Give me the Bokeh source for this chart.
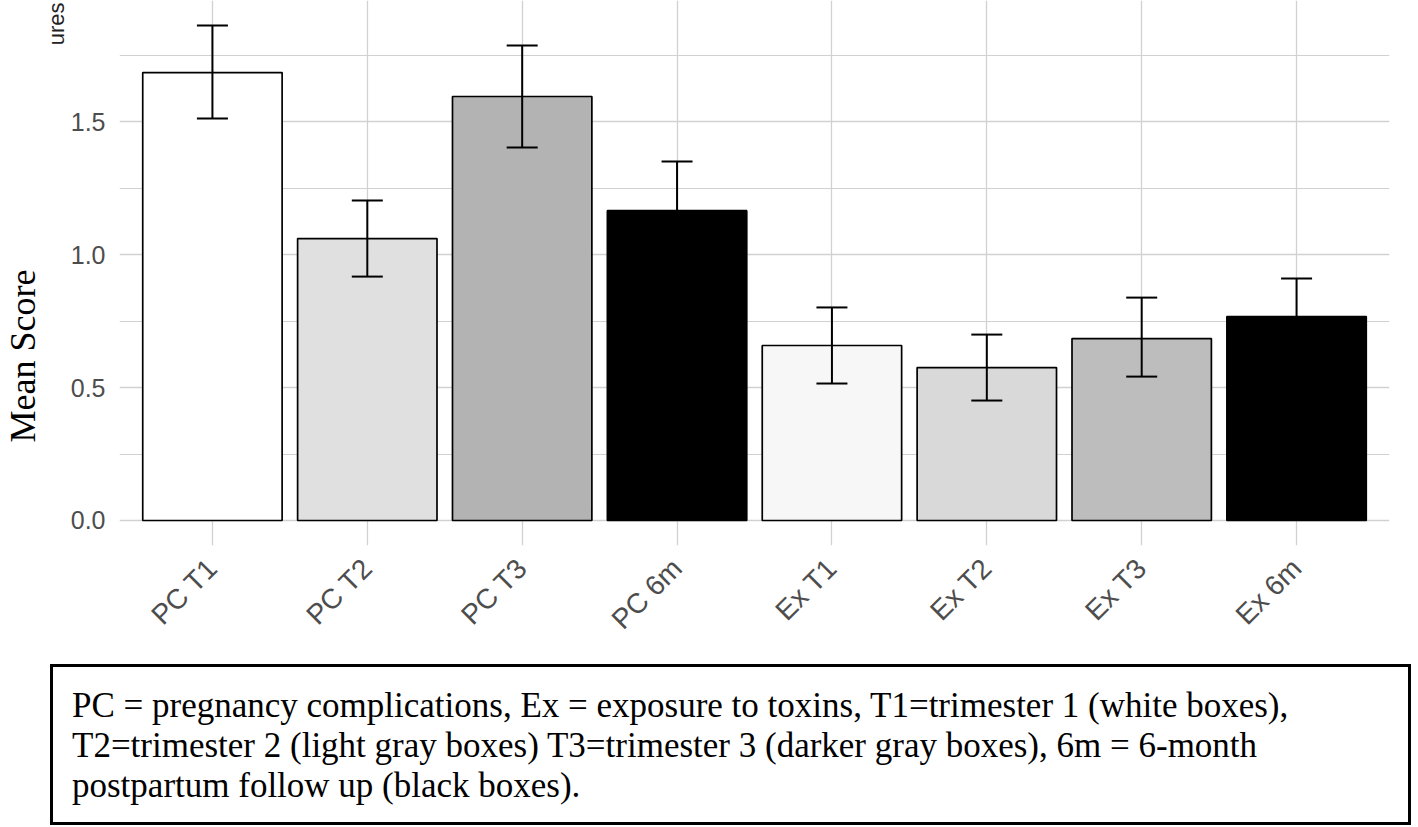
import math
from bokeh.plotting import figure
from bokeh.models import (ColumnDataSource, FactorRange, Range1d, FixedTicker, Whisker,
                          TeeHead, Title, Div, CustomJSTickFormatter)
from bokeh.layouts import column
from bokeh.embed import file_html
from bokeh.resources import INLINE

# ---- data ----
categories = ["PC T1", "PC T2", "PC T3", "PC 6m", "Ex T1", "Ex T2", "Ex T3", "Ex 6m"]
mean_score = [1.684, 1.060, 1.594, 1.165, 0.658, 0.575, 0.684, 0.767]
err_upper = [1.861, 1.203, 1.786, 1.350, 0.801, 0.699, 0.838, 0.910]
err_lower = [1.511, 0.917, 1.402, 0.980, 0.515, 0.451, 0.541, 0.624]
bar_colors = ["#ffffff", "#e0e0e0", "#b3b3b3", "#000000",
              "#f7f7f7", "#d9d9d9", "#bdbdbd", "#000000"]
y_ticks = [0.0, 0.5, 1.0, 1.5]
y_minor = [0.25, 0.75, 1.25, 1.75]
caption_lines = [
    "PC = pregnancy complications, Ex = exposure to toxins, T1=trimester 1 (white boxes),",
    "T2=trimester 2 (light gray boxes) T3=trimester 3 (darker gray boxes), 6m = 6-month",
    "postpartum follow up (black boxes).",
]

src = ColumnDataSource(dict(cat=categories, mean=mean_score, upper=err_upper,
                            lower=err_lower, color=bar_colors))

W = 1418
grid_col = "#d1d1d1"

p = figure(width=W, height=660, output_backend="svg", toolbar_location=None,
           x_range=FactorRange(factors=categories, range_padding=0.025),
           y_range=Range1d(-0.094, 1.955),
           min_border_left=119, min_border_right=29, min_border_top=0,
           min_border_bottom=115)
p.outline_line_color = None
p.background_fill_color = "white"
p.border_fill_color = "white"

p.vbar(x="cat", top="mean", bottom=0, width=0.9, source=src,
       fill_color="color", line_color="black", line_width=1.7)

wh = Whisker(base="cat", upper="upper", lower="lower", source=src,
             line_color="black", line_width=2, level="annotation",
             upper_head=TeeHead(size=31, line_width=2, line_color="black"),
             lower_head=TeeHead(size=31, line_width=2, line_color="black"))
p.add_layout(wh)

# axes
p.yaxis.ticker = FixedTicker(ticks=y_ticks, minor_ticks=y_minor)
p.yaxis.formatter = CustomJSTickFormatter(code="return tick.toFixed(1);")
for ax in (p.xaxis[0], p.yaxis[0]):
    ax.axis_line_color = None
    ax.major_tick_line_color = None
    ax.minor_tick_line_color = None
    ax.major_label_text_font = "Liberation Sans"
    ax.major_label_text_font_size = "25px"
    ax.major_label_text_color = "#4d4d4d"
p.xaxis.major_label_text_font_size = "28px"
p.yaxis.major_label_standoff = 8
p.xaxis.major_label_orientation = math.pi / 4
p.xaxis.major_label_standoff = 12

p.xgrid.grid_line_color = grid_col
p.xgrid.grid_line_width = 1.3
p.ygrid.grid_line_color = grid_col
p.ygrid.grid_line_width = 1.3
p.ygrid.minor_grid_line_color = grid_col
p.ygrid.minor_grid_line_width = 1.0

# left-side texts (y title and the clipped fragment at top)
p.add_layout(Title(text="ures", align="right", offset=2, standoff=-2,
                   text_font="Liberation Sans", text_font_size="22px",
                   text_font_style="normal", text_color="#222222"), "left")
p.add_layout(Title(text="Mean Score", align="left", offset=103, standoff=0,
                   text_font="Liberation Serif", text_font_size="36px",
                   text_font_style="normal", text_color="black"), "left")

# caption box
inner = "<br>".join(caption_lines)
cap_html = (
    '<div style="margin:4px 0 0 50px; width:1361px; height:161px; '
    'box-sizing:border-box; border:3px solid black; padding:19px 0 0 19px; '
    'font-family:\'Liberation Serif\'; font-size:35px; line-height:40px; '
    'color:black; white-space:nowrap; background:white;">' + inner + '</div>'
)
cap = Div(text=cap_html, width=W, height=167, margin=(0, 0, 0, 0))

layout = column(p, cap, spacing=0)
open("out.html", "w").write(file_html(layout, INLINE))
